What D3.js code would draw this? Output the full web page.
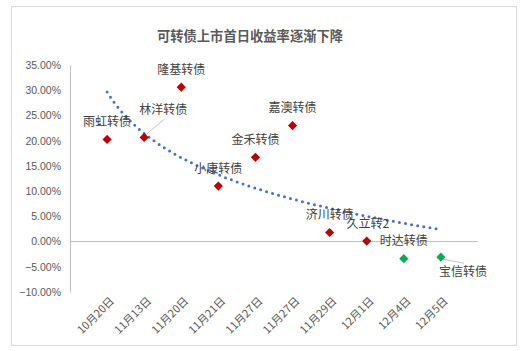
<!DOCTYPE html>
<html>
<head>
  <meta charset="utf-8">
  <title>可转债上市首日收益率逐渐下降</title>
  <script src="https://d3js.org/d3.v7.min.js"></script>
  <style>
    body { margin: 0; background: #fff; }
    text { font-family: "Noto Sans CJK SC", "Noto Sans", sans-serif; }
  </style>
</head>
<body>
  <script>
    // Chart data
    let dates = ['10月20日', '11月13日', '11月20日', '11月21日', '11月27日', '11月27日', '11月29日', '12月1日', '12月4日', '12月5日'];
    let bondNames = ['雨虹转债', '林洋转债', '隆基转债', '小康转债', '金禾转债', '嘉澳转债', '济川转债', '久立转2', '时达转债', '宝信转债'];
    let firstDayReturn = [0.2025, 0.2065, 0.306, 0.110, 0.167, 0.230, 0.018, 0.001, -0.034, -0.031];
    let yTicks = [0.35, 0.30, 0.25, 0.20, 0.15, 0.10, 0.05, 0, -0.05, -0.10];

    let data = dates.map((d, i) => ({ idx: i + 1, date: d, name: bondNames[i], value: firstDayReturn[i] }));

    let width = 527, height = 351;
    let plot = { left: 70, right: 478, top: 65, bottom: 292 };

    let svg = d3.select("body")
      .append("svg")
      .attr("width", width)
      .attr("height", height);

    // chart border
    svg.append("rect")
      .attr("x", 11.5).attr("y", 6.5)
      .attr("width", 505).attr("height", 339)
      .attr("fill", "#fff")
      .attr("stroke", "#D9D9D9");

    // title
    svg.append("text")
      .attr("x", 250).attr("y", 41)
      .attr("text-anchor", "middle")
      .style("font-size", "13.3px")
      .style("font-weight", "bold")
      .attr("fill", "#595959")
      .text("可转债上市首日收益率逐渐下降");

    let x = d3.scaleLinear().domain([0, dates.length + 1]).range([plot.left, plot.right]);
    let y = d3.scaleLinear().domain([-0.10, 0.35]).range([plot.bottom, plot.top]);

    // y axis
    let yAxis = svg.append("g")
      .attr("transform", "translate(" + plot.left + ",0)")
      .call(d3.axisLeft(y).tickValues(yTicks).tickSize(0).tickPadding(9).tickFormat(d3.format(".2%")));
    yAxis.select(".domain").attr("stroke", "#BFBFBF");
    yAxis.selectAll("text")
      .attr("fill", "#595959")
      .style("font-family", "'Liberation Sans', Arial, sans-serif")
      .style("font-size", "10.5px");

    // zero line
    svg.append("line")
      .attr("x1", plot.left).attr("x2", plot.right)
      .attr("y1", y(0)).attr("y2", y(0))
      .attr("stroke", "#BFBFBF");

    // x labels (rotated, at the bottom of the plot)
    svg.selectAll(".xlab")
      .data(data)
      .enter()
      .append("text")
      .attr("class", "xlab")
      .attr("transform", (d) => "translate(" + (x(d.idx) + 5) + "," + (plot.bottom + 7) + ") rotate(-45)")
      .attr("text-anchor", "end")
      .attr("dy", "0.35em")
      .attr("fill", "#595959")
      .style("font-size", "11px")
      .text((d) => d.date);

    // logarithmic trendline fitted to the data (like Excel)
    let lx = data.map((d) => Math.log(d.idx));
    let mx = d3.mean(lx), my = d3.mean(data, (d) => d.value);
    let sxy = d3.sum(data, (d, i) => (lx[i] - mx) * (d.value - my));
    let sxx = d3.sum(lx, (v) => (v - mx) * (v - mx));
    let slope = sxy / sxx, intercept = my - slope * mx;
    let trendX = d3.range(1, dates.length + 0.001, 0.05);

    svg.append("path")
      .datum(trendX)
      .attr("d", d3.line().x((t) => x(t)).y((t) => y(intercept + slope * Math.log(t))))
      .attr("fill", "none")
      .attr("stroke", "#4472C4")
      .attr("stroke-width", 3)
      .attr("stroke-linecap", "round")
      .attr("stroke-dasharray", "0 6.2");

    // leader lines for moved labels
    let labelShift = { '林洋转债': [19, -10], '宝信转债': [22, 32], '久立转2': [1, 0] };
    svg.selectAll(".leader")
      .data(data.filter((d) => d.name === '林洋转债' || d.name === '宝信转债'))
      .enter()
      .append("line")
      .attr("x1", (d) => x(d.idx) + 2)
      .attr("y1", (d) => y(d.value) + (d.name === '林洋转债' ? -3 : 2))
      .attr("x2", (d) => x(d.idx) + (d.name === '林洋转债' ? 20 : 23))
      .attr("y2", (d) => y(d.value) + (d.name === '林洋转债' ? -18 : 6))
      .attr("stroke", "#BFBFBF");

    // markers
    svg.selectAll(".pt")
      .data(data)
      .enter()
      .append("path")
      .attr("class", "pt")
      .attr("transform", (d) => "translate(" + x(d.idx) + "," + y(d.value) + ")")
      .attr("d", "M0,-4.6L4.6,0L0,4.6L-4.6,0Z")
      .attr("fill", (d) => d.value < 0 ? "#00B050" : "#C00000");

    // point labels
    svg.selectAll(".plab")
      .data(data)
      .enter()
      .append("text")
      .attr("class", "plab")
      .attr("x", (d) => x(d.idx) + (labelShift[d.name] ? labelShift[d.name][0] : 0))
      .attr("y", (d) => y(d.value) - 17.5 + (labelShift[d.name] ? labelShift[d.name][1] : 0))
      .attr("dy", "0.35em")
      .attr("text-anchor", "middle")
      .attr("fill", "#404040")
      .style("font-size", "12px")
      .text((d) => d.name);
  </script>
</body>
</html>
